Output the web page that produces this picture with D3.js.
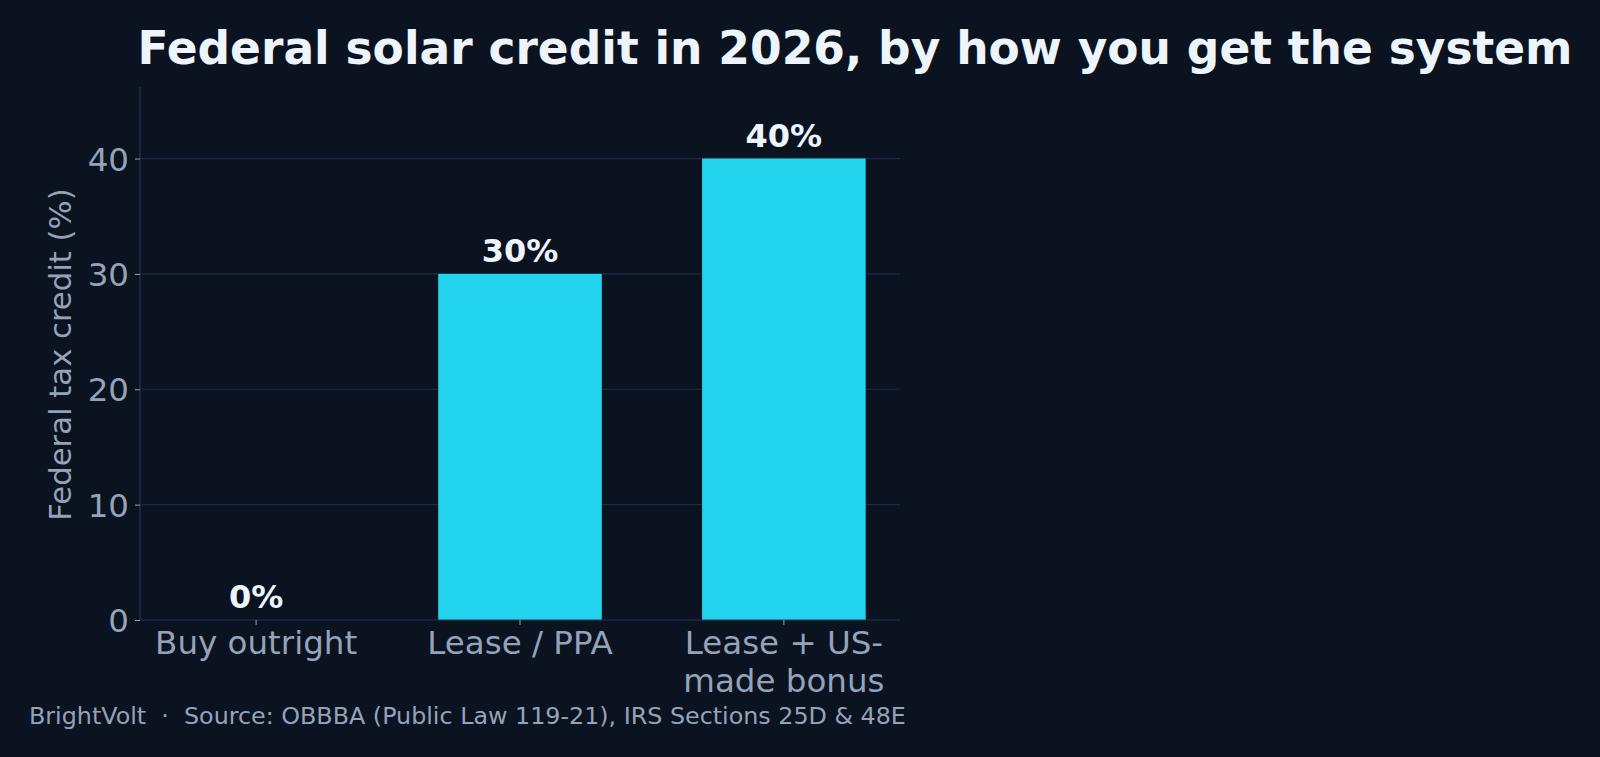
<html><head>
<title>Federal solar credit in 2026</title>
<style>
body {
  margin: 0;
  background: #0b1220;
  font-family: "DejaVu Sans", sans-serif;
}
svg { display: block; }
</style>
<script src="https://cdnjs.cloudflare.com/ajax/libs/d3/7.8.5/d3.min.js"></script>
</head>
<body>
<svg id="chart" width="1600" height="757"></svg>
<script>
// data
const categories = ["Buy outright", "Lease / PPA", "Lease + US-made bonus"];
const tickLines = [["Buy outright"], ["Lease / PPA"], ["Lease + US-", "made bonus"]];
const credit = [0, 30, 40];
const yTicks = [0, 10, 20, 30, 40];

const W = 1600, H = 757;
const margin = {left: 140, right: 700, top: 87, bottom: 137};

const svg = d3.select("#chart");

svg.append("rect")
  .attr("width", W)
  .attr("height", H)
  .attr("fill", "#0b1220");

const x = d3.scaleBand()
  .domain(categories)
  .range([margin.left, W - margin.right])
  .paddingInner(0.38)
  .paddingOuter(0.13);

const y = d3.scaleLinear()
  .domain([0, 46.2])
  .range([H - margin.bottom, margin.top]);

// grid
svg.append("g")
  .selectAll("line")
  .data(yTicks.slice(1))
  .join("line")
  .attr("x1", margin.left)
  .attr("x2", W - margin.right)
  .attr("y1", d => y(d))
  .attr("y2", d => y(d))
  .attr("stroke", "#1c2a40")
  .attr("stroke-width", 1.2);

// bars
svg.append("g")
  .selectAll("rect")
  .data(credit)
  .join("rect")
  .attr("x", (d, i) => x(categories[i]))
  .attr("y", d => y(d))
  .attr("width", x.bandwidth())
  .attr("height", d => y(0) - y(d))
  .attr("fill", "#22d3ee");

// value labels
svg.append("g")
  .selectAll("text")
  .data(credit)
  .join("text")
  .attr("x", (d, i) => x(categories[i]) + x.bandwidth() / 2)
  .attr("y", d => y(d) - 12)
  .attr("text-anchor", "middle")
  .attr("fill", "#eef4fc")
  .attr("font-size", 32)
  .attr("font-weight", "bold")
  .text(d => d + "%");

// y axis
const yAxis = svg.append("g")
  .attr("transform", `translate(${margin.left},0)`)
  .call(d3.axisLeft(y).tickValues(yTicks).tickSize(5).tickPadding(6));
yAxis.select(".domain").attr("stroke", "#243552").attr("stroke-width", 1.2)
  .attr("d", `M0,${y(0)}V${margin.top}`);
yAxis.selectAll(".tick line").attr("stroke", "#94a3b8");
yAxis.selectAll(".tick text")
  .attr("fill", "#94a3b8")
  .attr("font-size", 32.5)
  .attr("font-family", "DejaVu Sans")
  .attr("dy", "0.36em");

// x axis
const xAxis = svg.append("g")
  .attr("transform", `translate(0,${y(0)})`)
  .call(d3.axisBottom(x).tickSize(5).tickPadding(8));
xAxis.select(".domain").attr("stroke", "#243552").attr("stroke-width", 1.2)
  .attr("d", `M${margin.left},0H${W - margin.right}`);
xAxis.selectAll(".tick line").attr("stroke", "#94a3b8");
xAxis.selectAll(".tick text").remove();
xAxis.selectAll(".tick").each(function(d, i) {
  const t = d3.select(this).append("text")
    .attr("fill", "#94a3b8")
    .attr("font-size", 32.5)
    .attr("font-family", "DejaVu Sans")
    .attr("text-anchor", "middle")
    .attr("y", 34);
  tickLines[i].forEach((line, j) => {
    t.append("tspan").attr("x", 0).attr("dy", j === 0 ? 0 : 38).text(line);
  });
});

// y label
svg.append("text")
  .attr("transform", `translate(71,${(y(0) + margin.top) / 2 + 1}) rotate(-90)`)
  .attr("text-anchor", "middle")
  .attr("fill", "#94a3b8")
  .attr("font-size", 30.7)
  .text("Federal tax credit (%)");

// title
svg.append("text")
  .attr("x", 855)
  .attr("y", 64)
  .attr("text-anchor", "middle")
  .attr("fill", "#eef4fc")
  .attr("font-size", 45.5)
  .attr("font-weight", "bold")
  .text("Federal solar credit in 2026, by how you get the system");

// source note
svg.append("text")
  .attr("x", 29)
  .attr("y", 724)
  .attr("fill", "#94a3b8")
  .attr("font-size", 23.8)
  .style("white-space", "pre")
  .text("BrightVolt  \u00b7  Source: OBBBA (Public Law 119-21), IRS Sections 25D & 48E");
</script>
</body>
</html>
